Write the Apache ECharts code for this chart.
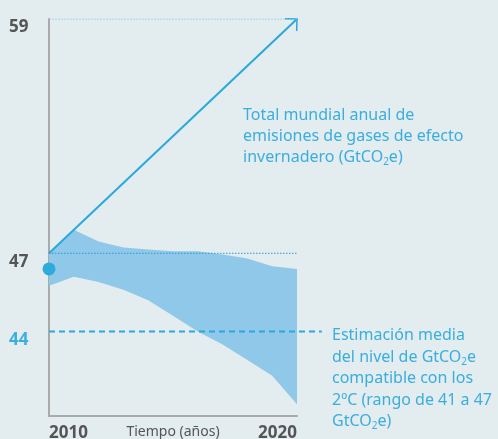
<!DOCTYPE html>
<html>
<head>
<meta charset="utf-8">
<script src="https://cdn.jsdelivr.net/npm/echarts@6/dist/echarts.min.js"></script>
<style>
  html, body { margin: 0; padding: 0; background: #e3ecee; }
  #chart { width: 498px; height: 439px; }
</style>
</head>
<body>
<div id="chart"></div>
<script>
// datos (GtCO2e)
var years = [2010, 2011, 2012, 2013, 2014, 2015, 2016, 2017, 2018, 2019, 2020];
var bandUpper = [47.0, 48.2, 47.6, 47.3, 47.2, 47.1, 47.1, 46.95, 46.8, 46.5, 46.4];
var bandLower = [45.75, 46.1, 45.9, 45.6, 45.2, 44.6, 44.0, 43.5, 42.9, 42.3, 41.2];
var totalYears = [2010, 2020];
var totalValues = [47, 59];
var startYear = 2010;
var startValue = 46.4;
var targetYears = [2010, 2021];
var targetValue = 44;
var refYears = [2010, 2020];
var yTicks = [59, 47, 44];
var xTicks = [2010, 2020];

// el grafico original estira la parte bajo 47
var BREAK = 47;
var STRETCH = 4 / 3;
function toAxis(v) {
  return v >= BREAK ? v : BREAK - (BREAK - v) * STRETCH;
}
function fromAxis(v) {
  return v >= BREAK ? v : BREAK - (BREAK - v) / STRETCH;
}

var BLUE = '#2ba8dc';
var TEXT_BLUE = '#3aaedf';
var GRAY = '#555555';
var FONT = 'Noto Sans';

// flecha abierta, punta en el centro de la caja
var chevron = 'path://M50,44 L100,94 L94,100 L50,56 L6,100 L0,94 Z M50,0 L50.5,0 L50.5,0.5 Z';

var chart = echarts.init(document.getElementById('chart'));

var options = {
  backgroundColor: '#e3ecee',
  animation: false,
  grid: { left: 49, right: 201, top: 19, bottom: 23, containLabel: false, outerBoundsMode: 'none' },
  xAxis: {
    type: 'value',
    min: 2010,
    max: 2020,
    name: 'Tiempo (años)',
    nameLocation: 'middle',
    nameGap: 9,
    nameMoveOverlap: false,
    nameTextStyle: { fontFamily: FONT, fontSize: 14, color: GRAY, verticalAlign: 'top' },
    axisLine: { lineStyle: { color: '#aaaaaa', width: 2 } },
    axisTick: { show: false },
    splitLine: { show: false },
    axisLabel: {
      customValues: xTicks,
      alignMinLabel: 'left',
      alignMaxLabel: 'right',
      margin: 9,
      fontFamily: FONT,
      fontSize: 17,
      fontWeight: 'bold',
      color: GRAY,
      formatter: function (v) { return String(v); }
    }
  },
  yAxis: {
    type: 'value',
    min: toAxis(40.75),
    max: 59,
    axisLine: { show: true, onZero: false, lineStyle: { color: '#aaaaaa', width: 2 } },
    axisTick: { show: false },
    splitLine: { show: false },
    axisLabel: {
      customValues: yTicks.map(toAxis),
      align: 'left',
      verticalAlign: 'top',
      margin: 40,
      fontFamily: FONT,
      fontSize: 17,
      fontWeight: 'bold',
      color: function (v) {
        return Math.round(fromAxis(v)) === targetValue ? TEXT_BLUE : GRAY;
      },
      formatter: function (v) { return String(Math.round(fromAxis(v))); }
    }
  },
  series: [
    {
      // banda de estimacion
      type: 'custom',
      silent: true,
      clip: false,
      data: years.map(function (y, i) { return [y, toAxis(bandLower[i]), toAxis(bandUpper[i])]; }),
      encode: { x: 0, y: [1, 2] },
      renderItem: function (params, api) {
        if (params.dataIndex !== 0) return;
        var top = [], bottom = [];
        for (var i = 0; i < years.length; i++) {
          top.push(api.coord([years[i], toAxis(bandUpper[i])]));
          bottom.push(api.coord([years[i], toAxis(bandLower[i])]));
        }
        return {
          type: 'polygon',
          shape: { points: top.concat(bottom.reverse()) },
          style: { fill: '#8fc8e9' }
        };
      }
    },
    {
      // referencia 59
      type: 'line',
      symbol: 'none',
      silent: true,
      lineStyle: { color: '#8ccfe8', width: 1, type: [2, 1] },
      data: refYears.map(function (y) { return [y, toAxis(totalValues[1])]; })
    },
    {
      // referencia 47
      type: 'line',
      symbol: 'none',
      silent: true,
      lineStyle: { color: '#2a9ad3', width: 1, type: [1.5, 1.5] },
      data: refYears.map(function (y) { return [y, toAxis(totalValues[0])]; })
    },
    {
      // media 2ºC, sale del area del grafico hasta el texto
      type: 'custom',
      silent: true,
      clip: false,
      data: targetYears.map(function (y) { return [y, toAxis(targetValue)]; }),
      renderItem: function (params, api) {
        if (params.dataIndex !== 0) return;
        var pts = targetYears.map(function (y) { return api.coord([y, toAxis(targetValue)]); });
        return {
          type: 'polyline',
          shape: { points: pts },
          style: { stroke: BLUE, lineWidth: 2, lineDash: [6, 4], fill: null }
        };
      }
    },
    {
      // total mundial
      type: 'lines',
      coordinateSystem: 'cartesian2d',
      silent: true,
      symbol: ['none', chevron],
      symbolSize: 18,
      lineStyle: { color: BLUE, width: 2, opacity: 1 },
      data: [{
        coords: totalYears.map(function (y, i) { return [y, toAxis(totalValues[i])]; })
      }]
    },
    {
      type: 'scatter',
      silent: true,
      clip: false,
      symbolSize: 13,
      itemStyle: { color: '#2eaadc', opacity: 1 },
      data: [[startYear, toAxis(startValue)]]
    }
  ],
  graphic: [
    {
      type: 'text',
      left: 243,
      top: 105,
      silent: true,
      style: {
        text: 'Total mundial anual de\nemisiones de gases de efecto\ninvernadero (GtCO{s|2}e)',
        fontFamily: FONT,
        fontSize: 16,
        lineHeight: 21,
        fill: TEXT_BLUE,
        rich: {
          s: { fontFamily: FONT, fontSize: 10, lineHeight: 21, fill: TEXT_BLUE, padding: [9, 0, 0, 0] }
        }
      }
    },
    {
      type: 'text',
      left: 332,
      top: 325,
      silent: true,
      style: {
        text: 'Estimación media\ndel nivel de GtCO{s|2}e\ncompatible con los\n2ºC (rango de 41 a 47\nGtCO{s|2}e)',
        fontFamily: FONT,
        fontSize: 16,
        lineHeight: 21.5,
        fill: TEXT_BLUE,
        rich: {
          s: { fontFamily: FONT, fontSize: 10, lineHeight: 21.5, fill: TEXT_BLUE, padding: [9, 0, 0, 0] }
        }
      }
    }
  ]
};

chart.setOption(options);
</script>
</body>
</html>
